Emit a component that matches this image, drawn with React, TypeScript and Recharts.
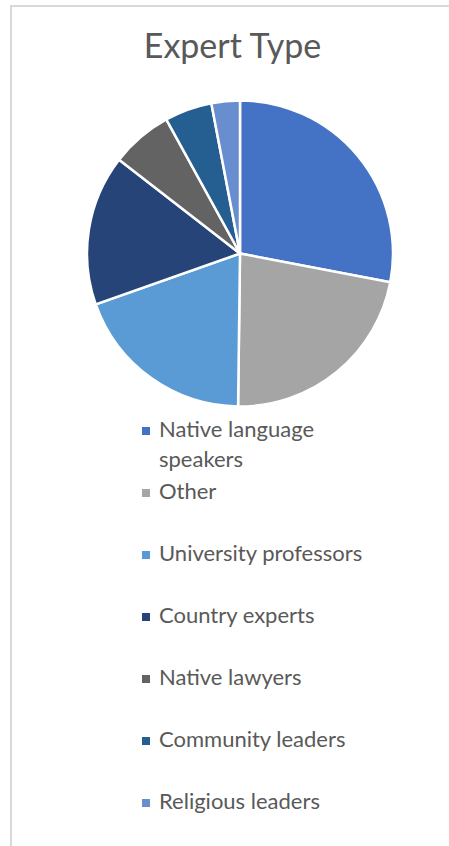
import { PieChart, Pie, Cell, Legend } from "recharts";

const categories = [
  "Native language speakers",
  "Other",
  "University professors",
  "Country experts",
  "Native lawyers",
  "Community leaders",
  "Religious leaders",
];
const shares = [28, 22.2, 19.4, 15.9, 6.5, 5.0, 3.0];
const COLORS = ["#4472C4", "#A5A5A5", "#5B9BD5", "#264478", "#636363", "#255E91", "#698ED0"];

const data = categories.map((name, i) => ({ name, value: shares[i] }));
const FONT = "Lato, 'Open Sans', sans-serif";

// keep the legend in data order (recharts sorts the payload by name)
function LegendList() {
  return (
    <div style={{ fontFamily: FONT }}>
      {categories.map((name, i) => (
        <div key={name} style={{ position: "relative", height: 62 }}>
          <span
            style={{
              position: "absolute", left: 0, top: 13, width: 8, height: 8,
              background: COLORS[i],
            }}
          />
          <div style={{ marginLeft: 17, width: 230, fontSize: 22, lineHeight: "30px", color: "#595959" }}>
            {name}
          </div>
        </div>
      ))}
    </div>
  );
}

export default function App() {
  return (
    <div
      style={{
        position: "absolute", left: 10, top: 5, width: 439, height: 841,
        borderLeft: "2px solid #d9d9d9", borderTop: "2px solid #d9d9d9",
        boxSizing: "border-box", background: "#fff", overflow: "hidden",
      }}
    >
      <div
        style={{
          position: "absolute", left: 0, width: 441, top: 17, textAlign: "center",
          fontFamily: FONT, fontSize: 34, color: "#595959",
        }}
      >
        Expert Type
      </div>
      <PieChart width={437} height={839} margin={{ top: 0, right: 0, bottom: 0, left: 0 }}>
        <Pie
          data={data}
          dataKey="value"
          nameKey="name"
          cx={228}
          cy={246.5}
          outerRadius={153}
          startAngle={90}
          endAngle={-270}
          stroke="#fff"
          strokeWidth={2.5}
          isAnimationActive={false}
        >
          {data.map((_, i) => <Cell key={i} fill={COLORS[i]} />)}
        </Pie>
        <Legend
          layout="vertical"
          content={<LegendList />}
          wrapperStyle={{ position: "absolute", left: 130, top: 407, width: 280 }}
        />
      </PieChart>
    </div>
  );
}
